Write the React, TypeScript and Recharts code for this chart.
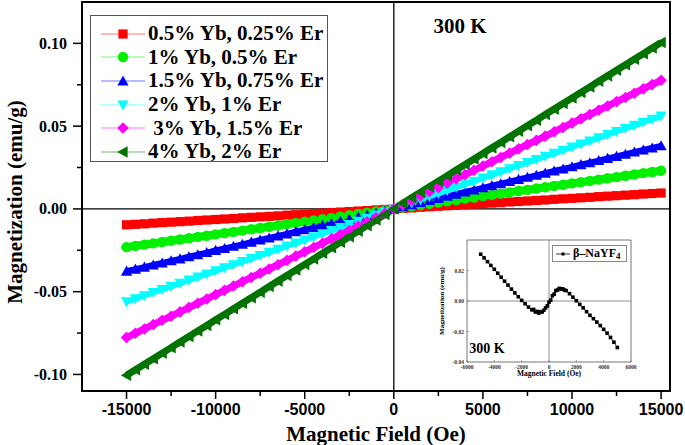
import React from 'react';
import { ComposedChart, Line, XAxis, YAxis, ReferenceLine, ReferenceArea, Legend } from 'recharts';

// applied field (Oe), one point every 500 Oe
const FIELD = [
  -15000, -14500, -14000, -13500, -13000, -12500, -12000, -11500, -11000, -10500,
  -10000, -9500, -9000, -8500, -8000, -7500, -7000, -6500, -6000, -5500,
  -5000, -4500, -4000, -3500, -3000, -2500, -2000, -1500, -1000, -500,
  0, 500, 1000, 1500, 2000, 2500, 3000, 3500, 4000, 4500,
  5000, 5500, 6000, 6500, 7000, 7500, 8000, 8500, 9000, 9500,
  10000, 10500, 11000, 11500, 12000, 12500, 13000, 13500, 14000, 14500, 15000,
];

// magnetization (emu/g)
const M_YB05 = [
  -0.0096, -0.0093, -0.0090, -0.0086, -0.0083, -0.0080, -0.0077, -0.0074, -0.0070, -0.0067,
  -0.0064, -0.0061, -0.0058, -0.0054, -0.0051, -0.0048, -0.0045, -0.0042, -0.0038, -0.0035,
  -0.0032, -0.0029, -0.0026, -0.0022, -0.0019, -0.0016, -0.0013, -0.0010, -0.0006, -0.0003,
  0, 0.0003, 0.0006, 0.0010, 0.0013, 0.0016, 0.0019, 0.0022, 0.0026, 0.0029,
  0.0032, 0.0035, 0.0038, 0.0042, 0.0045, 0.0048, 0.0051, 0.0054, 0.0058, 0.0061,
  0.0064, 0.0067, 0.0070, 0.0074, 0.0077, 0.0080, 0.0083, 0.0086, 0.0090, 0.0093, 0.0096,
];
const M_YB1 = [
  -0.0231, -0.0223, -0.0216, -0.0208, -0.0200, -0.0192, -0.0185, -0.0177, -0.0169, -0.0162,
  -0.0154, -0.0146, -0.0139, -0.0131, -0.0123, -0.0115, -0.0108, -0.0100, -0.0092, -0.0085,
  -0.0077, -0.0069, -0.0062, -0.0054, -0.0046, -0.0038, -0.0031, -0.0023, -0.0015, -0.0008,
  0, 0.0008, 0.0015, 0.0023, 0.0031, 0.0038, 0.0046, 0.0054, 0.0062, 0.0069,
  0.0077, 0.0085, 0.0092, 0.0100, 0.0108, 0.0115, 0.0123, 0.0131, 0.0139, 0.0146,
  0.0154, 0.0162, 0.0169, 0.0177, 0.0185, 0.0192, 0.0200, 0.0208, 0.0216, 0.0223, 0.0231,
];
const M_YB15 = [
  -0.0376, -0.0364, -0.0352, -0.0339, -0.0327, -0.0314, -0.0302, -0.0289, -0.0277, -0.0264,
  -0.0251, -0.0239, -0.0226, -0.0214, -0.0201, -0.0188, -0.0176, -0.0163, -0.0151, -0.0138,
  -0.0126, -0.0113, -0.0100, -0.0088, -0.0075, -0.0063, -0.0050, -0.0038, -0.0025, -0.0013,
  0, 0.0013, 0.0025, 0.0038, 0.0051, 0.0063, 0.0076, 0.0089, 0.0102, 0.0114,
  0.0127, 0.0140, 0.0152, 0.0165, 0.0178, 0.0191, 0.0203, 0.0216, 0.0229, 0.0241,
  0.0254, 0.0267, 0.0279, 0.0292, 0.0305, 0.0317, 0.0330, 0.0343, 0.0356, 0.0368, 0.0381,
];
const M_YB2 = [
  -0.0561, -0.0542, -0.0524, -0.0505, -0.0486, -0.0468, -0.0449, -0.0430, -0.0411, -0.0393,
  -0.0374, -0.0355, -0.0337, -0.0318, -0.0299, -0.0281, -0.0262, -0.0243, -0.0224, -0.0206,
  -0.0187, -0.0168, -0.0150, -0.0131, -0.0112, -0.0094, -0.0075, -0.0056, -0.0037, -0.0019,
  0, 0.0019, 0.0037, 0.0056, 0.0075, 0.0094, 0.0112, 0.0131, 0.0150, 0.0168,
  0.0187, 0.0206, 0.0224, 0.0243, 0.0262, 0.0281, 0.0299, 0.0318, 0.0337, 0.0355,
  0.0374, 0.0393, 0.0411, 0.0430, 0.0449, 0.0468, 0.0486, 0.0505, 0.0524, 0.0542, 0.0561,
];
const M_YB3 = [
  -0.0777, -0.0751, -0.0725, -0.0699, -0.0673, -0.0648, -0.0622, -0.0596, -0.0570, -0.0544,
  -0.0518, -0.0492, -0.0466, -0.0440, -0.0414, -0.0389, -0.0363, -0.0337, -0.0311, -0.0285,
  -0.0259, -0.0233, -0.0207, -0.0181, -0.0155, -0.0130, -0.0104, -0.0078, -0.0052, -0.0026,
  0, 0.0026, 0.0052, 0.0078, 0.0104, 0.0130, 0.0155, 0.0181, 0.0207, 0.0233,
  0.0259, 0.0285, 0.0311, 0.0337, 0.0363, 0.0389, 0.0414, 0.0440, 0.0466, 0.0492,
  0.0518, 0.0544, 0.0570, 0.0596, 0.0622, 0.0648, 0.0673, 0.0699, 0.0725, 0.0751, 0.0777,
];
const M_YB4 = [
  -0.1005, -0.0972, -0.0938, -0.0905, -0.0871, -0.0838, -0.0804, -0.0771, -0.0737, -0.0704,
  -0.0670, -0.0637, -0.0603, -0.0570, -0.0536, -0.0503, -0.0469, -0.0436, -0.0402, -0.0369,
  -0.0335, -0.0302, -0.0268, -0.0235, -0.0201, -0.0168, -0.0134, -0.0101, -0.0067, -0.0034,
  0, 0.0034, 0.0067, 0.0101, 0.0134, 0.0168, 0.0201, 0.0235, 0.0268, 0.0302,
  0.0335, 0.0369, 0.0402, 0.0436, 0.0469, 0.0503, 0.0536, 0.0570, 0.0603, 0.0637,
  0.0670, 0.0704, 0.0737, 0.0771, 0.0804, 0.0838, 0.0871, 0.0905, 0.0938, 0.0972, 0.1005,
];

const LABELS = [
  '0.5% Yb, 0.25% Er',
  '1% Yb, 0.5% Er',
  '1.5% Yb, 0.75% Er',
  '2% Yb, 1% Er',
  ' 3% Yb, 1.5% Er',
  '4% Yb, 2% Er',
];

const X_MAJOR = [-15000, -10000, -5000, 0, 5000, 10000, 15000];
const X_MINOR = [-12500, -7500, -2500, 2500, 7500, 12500];
const Y_MAJOR = [-0.1, -0.05, 0, 0.05, 0.1];
const Y_MINOR = [-0.075, -0.025, 0.025, 0.075];

// inset: undoped beta-NaYF4
const INSET_FIELD = [
  -5000, -4750, -4500, -4250, -4000, -3750, -3500, -3250, -3000, -2750,
  -2500, -2250, -2000, -1750, -1500, -1250, -1000, -750, -500, -250,
  0, 250, 500, 750, 1000, 1250, 1500, 1750, 2000, 2250,
  2500, 2750, 3000, 3250, 3500, 3750, 4000, 4250, 4500, 4750, 5000,
];
const INSET_M = [
  0.0307, 0.0283, 0.0258, 0.0233, 0.0208, 0.0182, 0.0156, 0.0130, 0.0104, 0.0078,
  0.0053, 0.0028, 0.0004, -0.0018, -0.0040, -0.0058, -0.0072, -0.0080, -0.0072, -0.0045,
  -0.0008, 0.0035, 0.0068, 0.0083, 0.0080, 0.0068, 0.0048, 0.0025, 0.0002, -0.0022,
  -0.0045, -0.0070, -0.0094, -0.0116, -0.0138, -0.0161, -0.0186, -0.0211, -0.0239, -0.0270, -0.0305,
];
const LOOP_FIELD = [-1125, -875, -625, -375, -125, 125, 375, 625, 875, 1125];
const LOOP_M = [-0.0055, -0.0068, -0.0070, -0.0060, -0.0032, 0.0005, 0.0045, 0.0072, 0.0079, 0.0072];
const INSET_X_TICKS = [-6000, -4000, -2000, 0, 2000, 4000, 6000];
const INSET_Y_TICKS = [-0.04, -0.02, 0, 0.02];

const SERIES = [
  { key: 's0', values: M_YB05, color: '#ff0000', shape: 'square', r: 4.6, band: 7 },
  { key: 's1', values: M_YB1, color: '#00f000', shape: 'circle', r: 5.2, band: 8 },
  { key: 's2', values: M_YB15, color: '#0000ff', shape: 'up', r: 5.6, band: 6 },
  { key: 's3', values: M_YB2, color: '#00ffff', shape: 'down', r: 5.6, band: 6 },
  { key: 's4', values: M_YB3, color: '#ff00ff', shape: 'diamond', r: 5.8, band: 7 },
  { key: 's5', values: M_YB4, color: '#007300', shape: 'left', r: 5.8, band: 7 },
];

const rows = FIELD.map((h, i) => {
  const row: Record<string, number> = { h };
  SERIES.forEach((s) => (row[s.key] = s.values[i]));
  return row;
});
const insetRows = INSET_FIELD.map((h, i) => ({ h, m: INSET_M[i] }));
const loopRows = LOOP_FIELD.map((h, i) => ({ h, m: LOOP_M[i] }));

const SERIF = '"Liberation Serif", "Times New Roman", serif';
const SANS = '"Liberation Sans", Arial, sans-serif';

function Marker({ shape, cx, cy, r, fill }: any) {
  switch (shape) {
    case 'square':
      return <rect x={cx - r} y={cy - r} width={2 * r} height={2 * r} fill={fill} />;
    case 'circle':
      return <circle cx={cx} cy={cy} r={r} fill={fill} />;
    case 'up':
      return <polygon points={`${cx},${cy - r} ${cx + r},${cy + r * 0.8} ${cx - r},${cy + r * 0.8}`} fill={fill} />;
    case 'down':
      return <polygon points={`${cx},${cy + r} ${cx + r},${cy - r * 0.8} ${cx - r},${cy - r * 0.8}`} fill={fill} />;
    case 'diamond':
      return <polygon points={`${cx},${cy - r} ${cx + r},${cy} ${cx},${cy + r} ${cx - r},${cy}`} fill={fill} />;
    default:
      return <polygon points={`${cx - r},${cy} ${cx + r * 0.8},${cy - r} ${cx + r * 0.8},${cy + r}`} fill={fill} />;
  }
}

const XTick = ({ x, y, payload }: any) => {
  const major = X_MAJOR.includes(payload.value);
  return (
    <g>
      <line x1={x} x2={x} y1={y} y2={y + (major ? 8 : 5)} stroke="#000" strokeWidth={1.5} />
      {major && (
        <text x={x} y={y + 24} textAnchor="middle" fontFamily={SANS} fontWeight="bold" fontSize={16} fill="#000">
          {payload.value}
        </text>
      )}
    </g>
  );
};

const YTick = ({ x, y, payload }: any) => {
  const major = Y_MAJOR.some((v) => Math.abs(v - payload.value) < 1e-9);
  return (
    <g>
      <line x1={x} x2={x - (major ? 9 : 5)} y1={y} y2={y} stroke="#000" strokeWidth={1.5} />
      {major && (
        <text x={x - 15} y={y + 5.5} textAnchor="end" fontFamily={SERIF} fontWeight="bold" fontSize={16} fill="#000">
          {payload.value.toFixed(2)}
        </text>
      )}
    </g>
  );
};

const InsetXTick = ({ x, y, payload }: any) => (
  <g>
    <line x1={x} x2={x} y1={y} y2={y - 2} stroke="#666" strokeWidth={0.6} />
    <text x={x} y={y + 7} textAnchor="middle" fontFamily={SERIF} fontWeight="bold" fontSize={5.5} fill="#333">
      {payload.value}
    </text>
  </g>
);

const InsetYTick = ({ x, y, payload }: any) => (
  <g>
    <line x1={x} x2={x + 2} y1={y} y2={y} stroke="#666" strokeWidth={0.6} />
    <text x={x - 3} y={y + 2} textAnchor="end" fontFamily={SERIF} fontWeight="bold" fontSize={5.5} fill="#333">
      {payload.value.toFixed(2)}
    </text>
  </g>
);

const MainLegend = () => (
  <div
    style={{
      border: '1px solid #555',
      background: '#fff',
      width: 238,
      height: 147,
      paddingTop: 6,
      boxSizing: 'border-box',
      fontFamily: SERIF,
      fontWeight: 'bold',
      fontSize: 21,
      color: '#000',
    }}
  >
    {SERIES.map((s, i) => (
      <div key={s.key} style={{ display: 'flex', alignItems: 'center', height: 23.6 }}>
        <svg width={44} height={14} style={{ marginLeft: 10, flexShrink: 0 }}>
          <line x1={0} x2={44} y1={7} y2={7} stroke={s.color} strokeOpacity={0.55} strokeWidth={1} />
          <Marker shape={s.shape} cx={22} cy={7} r={s.r} fill={s.color} />
        </svg>
        <span style={{ marginLeft: 3, whiteSpace: 'pre', lineHeight: 1 }}>{LABELS[i]}</span>
      </div>
    ))}
  </div>
);

const InsetLegend = () => (
  <div
    style={{
      border: '1px solid #888',
      background: '#fff',
      width: 75,
      height: 17,
      boxSizing: 'border-box',
      display: 'flex',
      alignItems: 'center',
      fontFamily: SERIF,
      fontWeight: 'bold',
      fontSize: 12,
      color: '#000',
    }}
  >
    <svg width={14} height={8} style={{ marginLeft: 3, flexShrink: 0 }}>
      <line x1={0} x2={14} y1={4} y2={4} stroke="#000" strokeWidth={0.8} />
      <rect x={5.5} y={2.5} width={3} height={3} fill="#000" />
    </svg>
    <span style={{ marginLeft: 3, lineHeight: 1, whiteSpace: 'nowrap' }}>
      β–NaYF<sub style={{ fontSize: 9, verticalAlign: -2 }}>4</sub>
    </span>
  </div>
);

const abs = (left: number, top: number, extra: React.CSSProperties = {}): React.CSSProperties => ({
  position: 'absolute',
  left,
  top,
  transform: 'translate(-50%, -50%)',
  whiteSpace: 'nowrap',
  fontFamily: SERIF,
  fontWeight: 'bold',
  color: '#000',
  lineHeight: 1,
  ...extra,
});

export default function App() {
  return (
    <div style={{ position: 'relative', width: 685, height: 445, background: '#fff', overflow: 'hidden' }}>
      <style>{'body{margin:0}'}</style>
      <ComposedChart width={685} height={445} data={rows} margin={{ top: 2, right: 15, left: 0, bottom: 0 }}>
        <XAxis
          type="number"
          dataKey="h"
          domain={[-17500, 15500]}
          allowDataOverflow
          ticks={[...X_MAJOR, ...X_MINOR].sort((a, b) => a - b)}
          interval={0}
          tick={<XTick />}
          tickLine={false}
          tickSize={0}
          tickMargin={0}
          axisLine={false}
          height={54}
        />
        <YAxis
          type="number"
          domain={[-0.11, 0.125]}
          allowDataOverflow
          ticks={[...Y_MAJOR, ...Y_MINOR].sort((a, b) => a - b)}
          interval={0}
          tick={<YTick />}
          tickLine={false}
          tickSize={0}
          tickMargin={0}
          axisLine={false}
          width={82}
        />
        <ReferenceLine y={0} stroke="#000" strokeWidth={1.3} />
        <ReferenceLine x={0} stroke="#000" strokeWidth={1.3} />
        {SERIES.map((s) => (
          <Line
            key={s.key}
            dataKey={s.key}
            stroke={s.color}
            strokeWidth={s.band}
            isAnimationActive={false}
            activeDot={false}
            dot={(p: any) => <Marker key={`${s.key}-${p.index}`} shape={s.shape} cx={p.cx} cy={p.cy} r={s.r} fill={s.color} />}
          />
        ))}
        <ReferenceArea x1={-17500} x2={15500} y1={-0.11} y2={0.125} fill="none" stroke="#000" strokeWidth={2} />
        <Legend
          layout="vertical"
          align="center"
          verticalAlign="middle"
          content={<MainLegend />}
          wrapperStyle={{ left: 90, top: 15, width: 238 }}
        />
      </ComposedChart>

      <div style={abs(15, 202, { fontSize: 21, transform: 'translate(-50%, -50%) rotate(-90deg)' })}>Magnetization (emu/g)</div>
      <div style={abs(376, 434, { fontSize: 21 })}>Magnetic Field (Oe)</div>
      <div style={abs(460, 26, { fontSize: 21 })}>300 K</div>

      <div style={{ position: 'absolute', left: 415, top: 235 }}>
        <ComposedChart width={225} height={150} margin={{ top: 5, right: 9, left: 0, bottom: 0 }}>
          <XAxis
            type="number"
            dataKey="h"
            domain={[-6000, 6000]}
            ticks={INSET_X_TICKS}
            interval={0}
            tick={<InsetXTick />}
            tickLine={false}
            tickSize={0}
            tickMargin={0}
            axisLine={false}
            height={23}
          />
          <YAxis
            type="number"
            domain={[-0.04, 0.04]}
            ticks={INSET_Y_TICKS}
            interval={0}
            tick={<InsetYTick />}
            tickLine={false}
            tickSize={0}
            tickMargin={0}
            axisLine={false}
            width={52}
          />
          <ReferenceLine y={0} stroke="#777" strokeWidth={0.8} />
          <ReferenceLine x={0} stroke="#777" strokeWidth={0.8} />
          <Line
            data={insetRows}
            dataKey="m"
            stroke="#000"
            strokeWidth={0.8}
            isAnimationActive={false}
            activeDot={false}
            dot={(p: any) => <rect key={`i-${p.index}`} x={p.cx - 1.8} y={p.cy - 1.8} width={3.6} height={3.6} fill="#000" />}
          />
          <Line
            data={loopRows}
            dataKey="m"
            stroke="#000"
            strokeWidth={0.8}
            isAnimationActive={false}
            activeDot={false}
            dot={(p: any) => <rect key={`l-${p.index}`} x={p.cx - 1.8} y={p.cy - 1.8} width={3.6} height={3.6} fill="#000" />}
          />
          <ReferenceArea x1={-6000} x2={6000} y1={-0.04} y2={0.04} fill="none" stroke="#777" strokeWidth={1} />
          <Legend
            layout="vertical"
            align="center"
            verticalAlign="middle"
            content={<InsetLegend />}
            wrapperStyle={{ left: 137, top: 10, width: 75 }}
          />
        </ComposedChart>
        <div style={abs(27, 66, { fontSize: 7, transform: 'translate(-50%, -50%) rotate(-90deg)' })}>Magnetization (emu/g)</div>
        <div style={abs(134, 139, { fontSize: 7.5 })}>Magnetic Field (Oe)</div>
        <div style={abs(72, 114, { fontSize: 14 })}>300 K</div>
      </div>
    </div>
  );
}
